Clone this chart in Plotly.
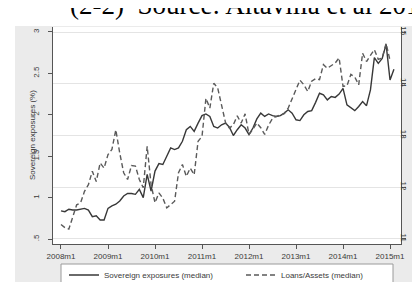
import plotly.graph_objects as go

# ---- data (monthly, 2008m1 .. 2015m2) ----
month_index = list(range(86))
tick_positions = [0, 12, 24, 36, 48, 60, 72, 84]
tick_labels = ["2008m1", "2009m1", "2010m1", "2011m1", "2012m1", "2013m1", "2014m1", "2015m1"]

sovereign = [0.84, 0.83, 0.86, 0.85, 0.85, 0.86, 0.87, 0.85, 0.77, 0.78, 0.73, 0.73,
             0.87, 0.90, 0.92, 0.96, 1.02, 1.05, 1.05, 1.04, 1.10, 1.00, 1.28, 1.08,
             1.32, 1.41, 1.40, 1.50, 1.60, 1.58, 1.60, 1.68, 1.82, 1.86, 1.80, 1.90,
             1.99, 2.01, 1.98, 1.86, 1.84, 1.88, 1.90, 1.85, 1.75, 1.82, 1.88, 1.84,
             1.76, 1.84, 1.95, 2.02, 1.98, 2.01, 1.99, 1.98, 1.99, 2.02, 2.06, 2.02,
             1.94, 1.93, 2.00, 2.04, 2.05, 2.15, 2.26, 2.24, 2.18, 2.22, 2.21, 2.25,
             2.32, 2.12, 2.08, 2.05, 2.10, 2.16, 2.11, 2.30, 2.69, 2.62, 2.68, 2.85,
             2.42, 2.55]

loans_assets = [11.28, 11.22, 11.19, 11.41, 11.66, 11.70, 11.92, 12.05, 12.31, 12.11, 12.47, 12.37,
                12.63, 12.73, 13.11, 12.66, 12.28, 12.15, 12.42, 12.41, 12.15, 11.99, 12.79, 12.05,
                11.70, 11.89, 11.79, 11.60, 11.66, 11.73, 12.28, 12.44, 12.21, 12.37, 12.24, 12.89,
                12.98, 13.72, 13.53, 14.01, 13.92, 13.55, 13.25, 13.14, 13.21, 13.38, 13.24, 13.42,
                13.02, 13.12, 13.24, 13.15, 13.02, 13.20, 13.33, 13.37, 13.40, 13.42, 13.53, 13.70,
                13.90, 14.07, 13.98, 13.85, 14.05, 14.10, 14.08, 14.37, 14.30, 14.35, 14.40, 14.50,
                13.95, 13.96, 14.18, 14.13, 13.98, 14.59, 14.43, 14.55, 14.66, 14.47, 14.50, 14.78,
                14.45]

left_ticks = [0.5, 1, 1.5, 2, 2.5, 3]
left_labels = [".5", "1", "1.5", "2", "2.5", "3"]
right_ticks = [11, 12, 13, 14, 15]

# ---- geometry (pixels) ----
W, H = 420, 282
L, R, T, B = 45, 27, 19, 46
PW, PH = W - L - R, H - T - B

def px(x):
    return (x - L) / PW

def py(y):
    return (H - B - y) / PH

FONT = "Liberation Sans"
TXT = "#3a3a3a"
AX = "#555555"

fig = go.Figure()
fig.add_trace(go.Scatter(x=month_index[:len(sovereign)], y=sovereign, mode="lines",
                         name="Sovereign exposures (median)", legend="legend",
                         line=dict(color="#383838", width=1.4)))
fig.add_trace(go.Scatter(x=month_index[:len(loans_assets)], y=loans_assets, mode="lines",
                         name="Loans/Assets (median)", yaxis="y2", legend="legend2",
                         line=dict(color="#5a5a5a", width=1.4, dash="5px,3px")))

legend_common = dict(orientation="h", xanchor="left", yanchor="middle",
                     bgcolor="rgba(0,0,0,0)", borderwidth=0,
                     font=dict(family=FONT, size=8, color=TXT))

fig.update_layout(
    width=W, height=H,
    margin=dict(l=L, r=R, t=T, b=B, autoexpand=False),
    paper_bgcolor="#ebebeb",
    plot_bgcolor="white",
    font=dict(family=FONT, size=8, color=TXT),
    showlegend=True,
    legend=dict(x=px(56), y=py(267), **legend_common),
    legend2=dict(x=px(233), y=py(267), **legend_common),
    xaxis=dict(range=[-2.04, 86.8], tickvals=tick_positions, ticktext=tick_labels,
               ticks="outside", ticklen=4, tickcolor=AX, showline=True, linecolor=AX,
               linewidth=1, showgrid=False, zeroline=False, automargin=False,
               tickfont=dict(size=8, color=TXT)),
    yaxis=dict(range=[0.44, 3.06], tickvals=left_ticks, ticktext=left_labels, tickangle=-90,
               ticks="outside", ticklen=4, tickcolor=AX, showline=True, linecolor=AX,
               linewidth=1, showgrid=False, zeroline=False, automargin=False,
               ticklabelstandoff=6, tickfont=dict(size=8, color=TXT)),
    yaxis2=dict(range=[10.903, 15.097], tickvals=right_ticks, overlaying="y", side="right",
                tickangle=90, ticks="outside", ticklen=4, tickcolor=AX, showline=True,
                linecolor=AX, linewidth=1, showgrid=True, gridcolor="#e4e4e4", gridwidth=1.2,
                zeroline=False, automargin=False, ticklabelstandoff=-8,
                tickfont=dict(size=8, color=TXT)),
    shapes=[
        dict(type="rect", xref="paper", yref="paper", x0=px(0), x1=px(W), y0=py(18), y1=py(0),
             fillcolor="white", line=dict(width=0), layer="below"),
        dict(type="rect", xref="paper", yref="paper", x0=px(0), x1=px(7), y0=py(H), y1=py(0),
             fillcolor="white", line=dict(width=0), layer="below"),
        dict(type="rect", xref="paper", yref="paper", x0=px(53), x1=px(385), y0=py(278),
             y1=py(256), fillcolor="white", line=dict(color="#9a9a9a", width=1), layer="below"),
    ],
    annotations=[
        dict(text="(2-2)  Source: Altavilla et al 2016", xref="paper", yref="paper",
             x=px(60), y=py(-3), xanchor="left", yanchor="middle", showarrow=False,
             font=dict(family="Liberation Serif", size=27, color="black")),
        dict(text="Sovereign exposures (%)", xref="paper", yref="paper",
             x=px(25), y=py(127), xanchor="center", yanchor="middle", textangle=-90,
             showarrow=False, font=dict(family=FONT, size=8, color=TXT)),
        dict(text="Loans/Assets (%)", xref="paper", yref="paper",
             x=px(415), y=py(127), xanchor="right", yanchor="middle", textangle=90,
             showarrow=False, font=dict(family=FONT, size=8, color=TXT)),
    ],
)

fig.write_html("out.html")
